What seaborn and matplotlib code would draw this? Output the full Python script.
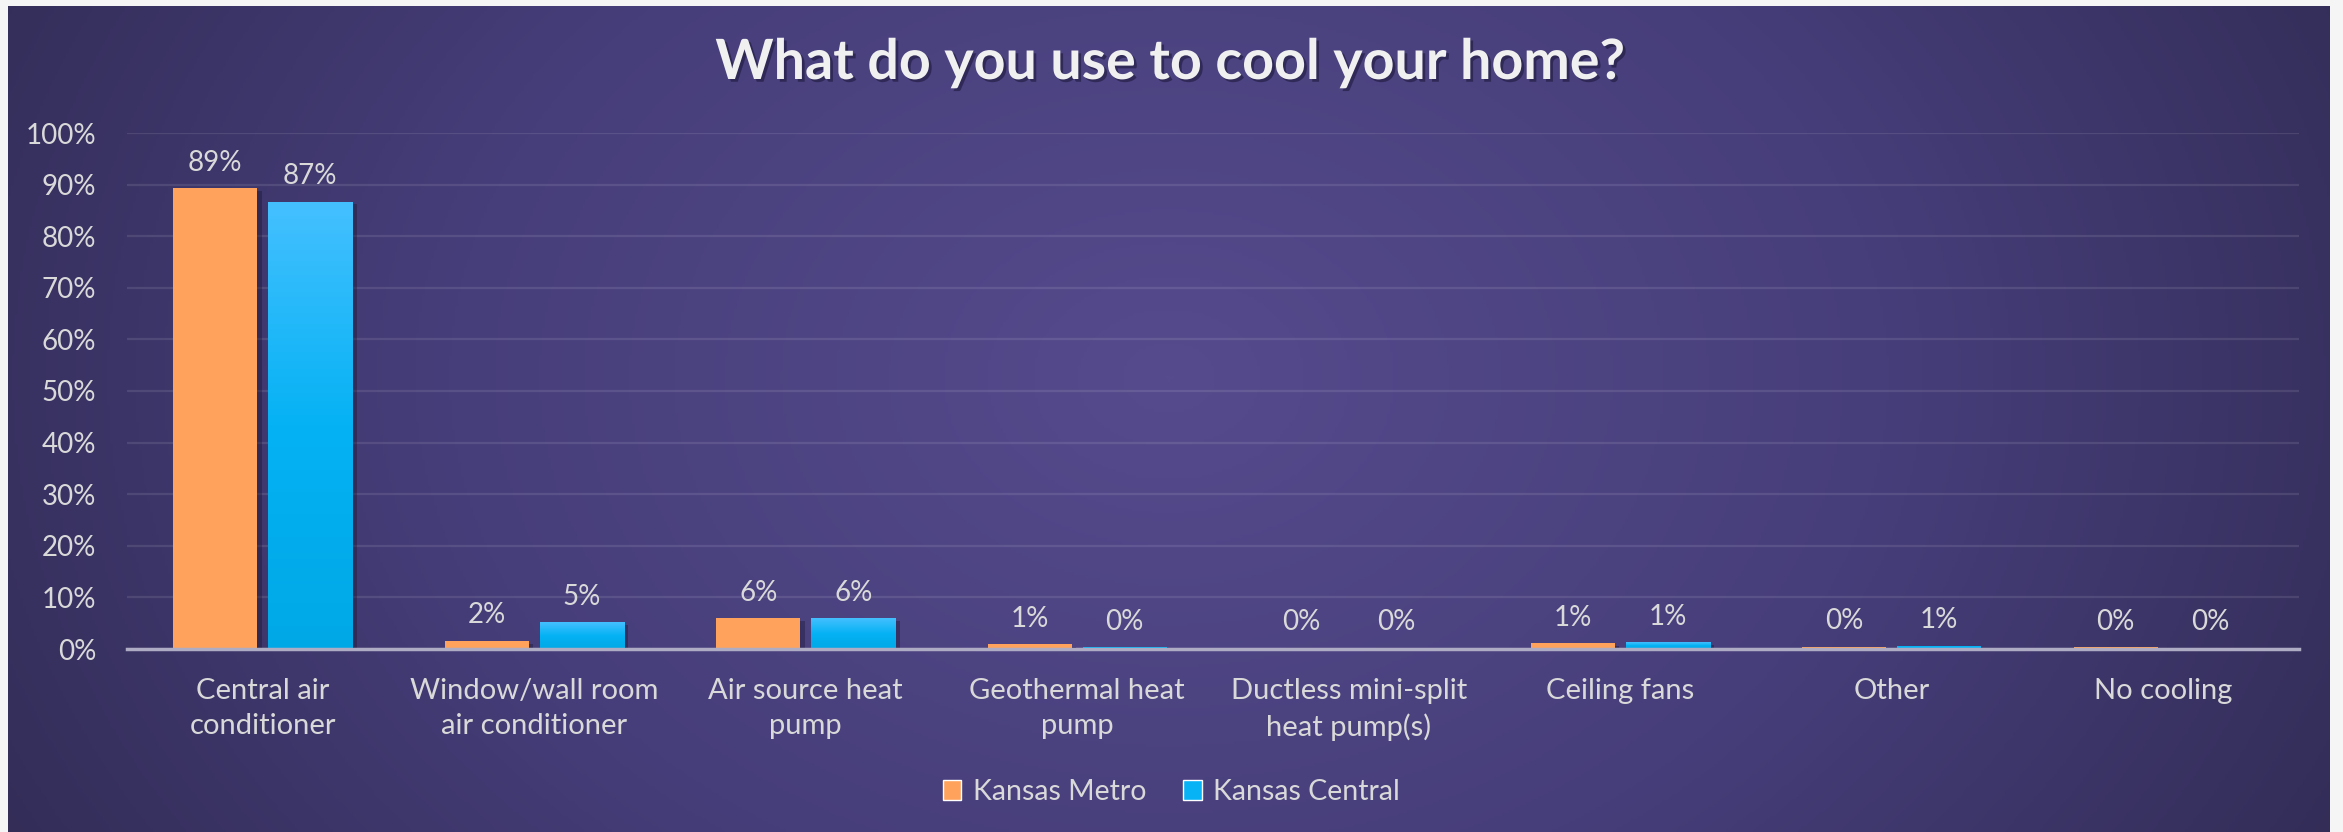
import numpy as np
import pandas as pd
import matplotlib
matplotlib.use('Agg')
import matplotlib.pyplot as plt
import matplotlib.patheffects as pe
from matplotlib.colors import LinearSegmentedColormap
from matplotlib.patches import Patch
import seaborn as sns

# data
categories = ['Central air\nconditioner', 'Window/wall room\nair conditioner',
              'Air source heat\npump', 'Geothermal heat\npump',
              'Ductless mini-split\nheat pump(s)', 'Ceiling fans', 'Other', 'No cooling']
series_names = ['Kansas Metro', 'Kansas Central']
kansas_metro = [0.893, 0.016, 0.060, 0.009, 0.002, 0.011, 0.004, 0.003]
kansas_central = [0.867, 0.052, 0.060, 0.003, 0.002, 0.013, 0.006, 0.002]
y_ticks = [0.0, 0.1, 0.2, 0.3, 0.4, 0.5, 0.6, 0.7, 0.8, 0.9, 1.0]

ORANGE = '#ffa25b'
BLUE = '#08b3f5'
TXT = '#d9d9d9'

df = pd.DataFrame({
    'category': categories * 2,
    'region': [series_names[0]] * len(categories) + [series_names[1]] * len(categories),
    'value': kansas_metro + kansas_central,
})

sns.set_theme(style='white')
plt.rcParams['font.family'] = ['Lato', 'DejaVu Sans']

W, H = 2343, 832
fig = plt.figure(figsize=(W / 100, H / 100), dpi=100)
fig.patch.set_facecolor('#f5f5f5')

# background panel with soft radial gradient
bg = fig.add_axes([8 / W, 0, (2330 - 8) / W, 1 - 6 / H])
bg.set_zorder(0)
yy, xx = np.mgrid[0:1:300j, 0:1:800j]
r = np.sqrt(((xx - 0.5) / 0.62) ** 2 + ((yy - 0.45) / 1.3) ** 2)
r = np.clip(r, 0, 1)
cmap_bg = LinearSegmentedColormap.from_list('bg', ['#564b8d', '#463e7a', '#2f2a51'])
bg.imshow(r, cmap=cmap_bg, aspect='auto', extent=[0, 1, 1, 0], vmin=0, vmax=1)
bg.axis('off')

ax = fig.add_axes([127 / W, 1 - 649 / H, (2299 - 127) / W, (649 - 133) / H])
ax.set_zorder(1)
ax.set_facecolor('none')

sns.barplot(data=df, x='category', y='value', hue='region', hue_order=series_names,
            palette=[ORANGE, BLUE], saturation=1, width=0.70, gap=0.114,
            errorbar=None, legend=False, linewidth=0, ax=ax)

for bar in ax.patches:
    bar.set_path_effects([pe.SimplePatchShadow(offset=(3, -2), alpha=0.35, shadow_rgbFace='#15122a'),
                          pe.Normal()])

# light-to-dark sheen on the blue bars
blue_cmap = LinearSegmentedColormap.from_list('bl', ['#45c0ff', '#05b2f4', '#00a8e6'])
grad = np.linspace(0, 1, 256).reshape(-1, 1)
for bar in ax.containers[1]:
    x0, w, h = bar.get_x(), bar.get_width(), bar.get_height()
    if h < 0.01:
        continue
    im = ax.imshow(grad, cmap=blue_cmap, aspect='auto', extent=[x0, x0 + w, 0, h],
                   origin='upper', zorder=bar.get_zorder() + 0.1)
    im.set_clip_path(bar)
ax.set_xlim(-0.5, len(categories) - 0.5)

for cont in ax.containers:
    ax.bar_label(cont, labels=[f'{v:.0%}' for v in cont.datavalues],
                 padding=9, color=TXT, fontsize=20)

ax.set_ylim(0, 1)
ax.set_yticks(y_ticks)
ax.set_yticklabels([f'{t:.0%}' for t in y_ticks])
ax.set_xlabel('')
ax.set_ylabel('')
ax.tick_params(axis='y', length=0, pad=22, labelsize=20, labelcolor=TXT)
ax.tick_params(axis='x', length=0, pad=21, labelsize=21, labelcolor=TXT)
for lbl in ax.get_xticklabels():
    lbl.set_linespacing(1.4)
ax.yaxis.grid(True, color='white', alpha=0.1, lw=1.6)
ax.set_axisbelow(True)
for s in ['top', 'right', 'left']:
    ax.spines[s].set_visible(False)
ax.spines['bottom'].set_color('#aeabc4')
ax.spines['bottom'].set_linewidth(2.5)

fig.text(0.4994, 1 - 63 / H, 'What do you use to cool your home?', ha='center', va='center',
         fontsize=40, fontweight='bold', color='#f0f0f0',
         path_effects=[pe.SimplePatchShadow(offset=(2, -2), alpha=0.5, shadow_rgbFace='#161230'),
                       pe.Normal()])

handles = [Patch(facecolor=ORANGE), Patch(facecolor=BLUE)]
fig.legend(handles, series_names, loc='center', bbox_to_anchor=(0.5, 1 - 792 / H), ncol=2,
           frameon=False, fontsize=20.5, labelcolor=TXT, handlelength=0.65, handleheight=0.65,
           handletextpad=0.4, columnspacing=1.3)

fig.savefig('out.png', dpi=100, facecolor=fig.get_facecolor())
